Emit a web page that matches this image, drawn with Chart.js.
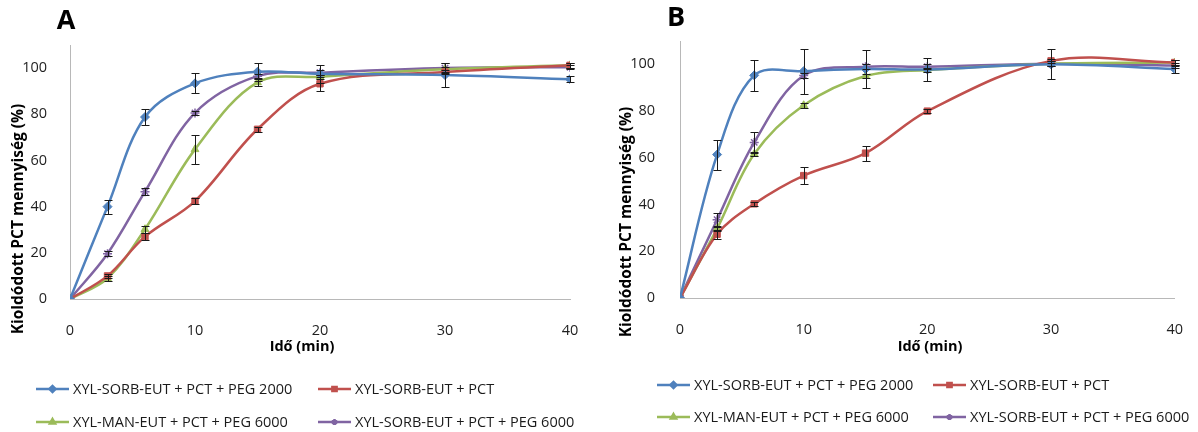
<!DOCTYPE html>
<html>
<head>
<meta charset="utf-8">
<script src="https://cdn.jsdelivr.net/npm/chart.js@4.4.0/dist/chart.umd.min.js"></script>
<style>
    body { margin: 0; background: #fff; }
    .panel { position: absolute; top: 0; width: 599px; height: 432px; }
</style>
</head>
<body>
<div class="panel" style="left:0"><canvas id="chartA" width="599" height="432"></canvas></div>
<div class="panel" style="left:599px"><canvas id="chartB" width="599" height="432"></canvas></div>
<script>
// time points (min)
const times = [0, 3, 6, 10, 15, 20, 30, 40];
const xTicks = [0, 10, 20, 30, 40];
const yTicks = [0, 20, 40, 60, 80, 100];

const seriesLabels = [
    "XYL-SORB-EUT + PCT + PEG 2000",
    "XYL-SORB-EUT + PCT",
    "XYL-MAN-EUT + PCT + PEG 6000",
    "XYL-SORB-EUT + PCT + PEG 6000"
];
const colors = ["#4F81BD", "#C0504D", "#9BBB59", "#8064A2"];
const pointStyles = ["rectRot", "rect", "triangle", "star"];

// panel A
const aSorbPeg2000 = [0, 40, 78.8, 93.4, 98.4, 97.5, 97, 95.2];
const aSorbPeg2000Err = [0, 3, 3.4, 4.3, 4, 4, 5, 1.2];
const aSorb = [0, 10, 27, 42.4, 73.5, 93.2, 98.3, 101.2];
const aSorbErr = [0, 1, 1.5, 1.2, 1.2, 3, 1, 1];
const aManPeg6000 = [0, 9, 30.2, 64.8, 93.8, 96.2, 99.5, 101.2];
const aManPeg6000Err = [0, 1, 1.5, 6.4, 1.5, 1, 1, 1];
const aSorbPeg6000 = [0, 19.6, 46.5, 80.6, 96.5, 98, 100, 100.4];
const aSorbPeg6000Err = [0, 1, 1.5, 0.8, 1, 1, 2, 1];

// panel B
const bSorbPeg2000 = [0, 61.4, 95.3, 97.1, 98, 97.8, 100, 98];
const bSorbPeg2000Err = [0, 6.4, 6.7, 9.6, 8, 5, 6.4, 1.5];
const bSorb = [0, 27.3, 40.3, 52.4, 62, 80, 101.5, 100.8];
const bSorbErr = [0, 2, 1, 3.7, 3.2, 1, 1, 1];
const bManPeg6000 = [0, 29.7, 61.6, 82.5, 95, 97.6, 100.3, 100.8];
const bManPeg6000Err = [0, 1, 1, 1, 1, 1, 1, 1];
const bSorbPeg6000 = [0, 33.5, 66.6, 95.2, 99, 99, 100.3, 99.5];
const bSorbPeg6000Err = [0, 3, 4.5, 1, 1, 1, 1, 1];

Chart.defaults.font.family = "'Open Sans', sans-serif";
Chart.defaults.font.size = 14.5;
Chart.defaults.color = "#1f1f1f";

const errorBars = {
    id: "errorBars",
    afterDatasetsDraw(chart) {
        const ctx = chart.ctx;
        const xs = chart.scales.x;
        const ys = chart.scales.y;
        ctx.save();
        ctx.strokeStyle = "#1a1a1a";
        ctx.lineWidth = 1;
        chart.data.datasets.forEach(ds => {
            ds.data.forEach((p, i) => {
                const e = ds.errors[i];
                if (!e) return;
                const x = Math.round(xs.getPixelForValue(p.x)) + 0.5;
                const top = Math.round(ys.getPixelForValue(p.y + e)) + 0.5;
                const bot = Math.round(ys.getPixelForValue(p.y - e)) + 0.5;
                ctx.beginPath();
                ctx.moveTo(x, top); ctx.lineTo(x, bot);
                ctx.moveTo(x - 4, top); ctx.lineTo(x + 4, top);
                ctx.moveTo(x - 4, bot); ctx.lineTo(x + 4, bot);
                ctx.stroke();
            });
        });
        ctx.restore();
    }
};

const decor = {
    id: "decor",
    afterDraw(chart, args, opts) {
        const ctx = chart.ctx;
        ctx.save();
        // panel letter
        ctx.fillStyle = "#000";
        ctx.font = "bold 27px 'Open Sans', sans-serif";
        ctx.textAlign = "center";
        ctx.textBaseline = "middle";
        ctx.fillText(opts.letter, opts.letterX, opts.letterY);

        // axis titles
        ctx.font = "bold 14.5px 'Open Sans', sans-serif";
        ctx.fillText("Idő (min)", opts.xTitleX, opts.xTitleY);
        ctx.save();
        ctx.translate(opts.yTitleX, opts.yTitleY);
        ctx.rotate(-Math.PI / 2);
        ctx.font = "bold 15.5px 'Open Sans', sans-serif";
        ctx.fillText("Kioldódott PCT mennyiség (%)", 0, 0);
        ctx.restore();

        // legend, 2 x 2
        ctx.font = "14.5px 'Open Sans', sans-serif";
        ctx.textAlign = "left";
        chart.data.datasets.forEach((ds, i) => {
            const lx = opts.legendCols[i % 2];
            const ly = opts.legendRows[Math.floor(i / 2)];
            ctx.strokeStyle = ds.borderColor;
            ctx.lineWidth = 2.5;
            ctx.beginPath();
            ctx.moveTo(lx, ly); ctx.lineTo(lx + 33, ly);
            ctx.stroke();
            ctx.fillStyle = ds.borderColor;
            Chart.helpers.drawPoint(ctx, { pointStyle: ds.pointStyle, radius: 3, rotation: 0, borderWidth: 1 }, lx + 16.5, ly);
            ctx.fillStyle = "#1a1a1a";
            ctx.fillText(ds.label, lx + 37, ly + 1);
        });
        ctx.restore();
    }
};

function makeDatasets(values, errs) {
    return values.map((vals, k) => ({
        label: seriesLabels[k],
        data: times.map((t, i) => ({ x: t, y: vals[i] })),
        errors: errs[k],
        borderColor: colors[k],
        backgroundColor: colors[k],
        pointBackgroundColor: colors[k],
        pointBorderColor: colors[k],
        pointStyle: pointStyles[k],
        pointRadius: 4.5,
        pointBorderWidth: k === 3 ? 1.5 : 1,
        borderWidth: 2.5,
        tension: 0.35,
        fill: false
    }));
}

function makeChart(id, datasets, lay) {
    const config = {
        type: "line",
        data: { datasets: datasets },
        options: {
            responsive: false,
            animation: false,
            layout: { padding: { top: lay.top, right: lay.right, bottom: 0, left: 0 } },
            plugins: {
                legend: { display: false },
                tooltip: { enabled: false },
                decor: lay.decor
            },
            scales: {
                x: {
                    type: "linear",
                    min: 0,
                    max: 40,
                    grid: { display: false },
                    border: { color: "#b8b8b8", width: 1 },
                    afterBuildTicks: (s) => { s.ticks = xTicks.map(v => ({ value: v })); },
                    afterFit: (s) => { s.height = 432 - lay.bottom; },
                    ticks: { padding: 15, maxRotation: 0 }
                },
                y: {
                    min: 0,
                    max: 110,
                    grid: { display: false },
                    border: { color: "#b8b8b8", width: 1 },
                    afterBuildTicks: (s) => { s.ticks = yTicks.map(v => ({ value: v })); },
                    afterFit: (s) => { s.width = lay.left; },
                    ticks: { padding: lay.yPad }
                }
            }
        },
        plugins: [errorBars, decor]
    };
    return new Chart(document.querySelector(id), config);
}

makeChart("#chartA",
    makeDatasets([aSorbPeg2000, aSorb, aManPeg6000, aSorbPeg6000],
        [aSorbPeg2000Err, aSorbErr, aManPeg6000Err, aSorbPeg6000Err]),
    {
        top: 45, right: 29, bottom: 299, left: 70, yPad: 15,
        decor: {
            letter: "A", letterX: 66, letterY: 21, xTitleX: 302, xTitleY: 347,
            yTitleX: 19, yTitleY: 219, legendCols: [36, 318], legendRows: [389, 422]
        }
    });

makeChart("#chartB",
    makeDatasets([bSorbPeg2000, bSorb, bManPeg6000, bSorbPeg6000],
        [bSorbPeg2000Err, bSorbErr, bManPeg6000Err, bSorbPeg6000Err]),
    {
        top: 41, right: 18, bottom: 298, left: 81, yPad: 17,
        decor: {
            letter: "B", letterX: 77, letterY: 18, xTitleX: 331, xTitleY: 347,
            yTitleX: 28, yTitleY: 222, legendCols: [58, 334], legendRows: [385, 417]
        }
    });
</script>
</body>
</html>
